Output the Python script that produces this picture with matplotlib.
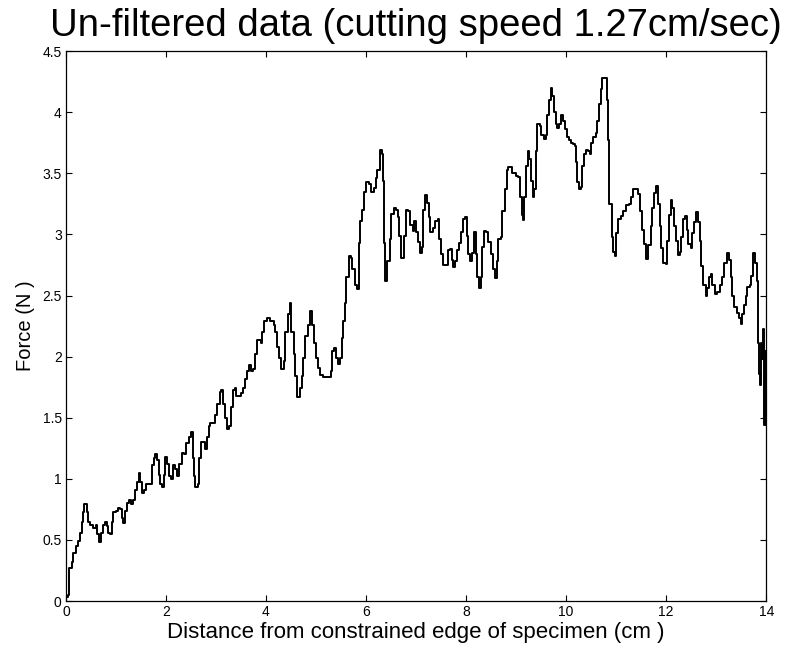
import matplotlib
matplotlib.use("Agg")
import matplotlib.pyplot as plt

x_cm = [0.0, 0.047, 0.067, 0.114, 0.147, 0.2, 0.247, 0.28, 0.314, 0.334, 0.368, 0.415, 0.448, 0.482,
        0.548, 0.602, 0.629, 0.669, 0.709, 0.749, 0.783, 0.816, 0.849, 0.883, 0.916, 0.95, 1.003,
        1.05, 1.084, 1.117, 1.15, 1.184, 1.217, 1.264, 1.298, 1.338, 1.385, 1.418, 1.452, 1.485,
        1.518, 1.565, 1.605, 1.686, 1.719, 1.753, 1.786, 1.819, 1.853, 1.886, 1.92, 1.953, 1.987,
        2.02, 2.054, 2.1, 2.14, 2.181, 2.221, 2.261, 2.321, 2.368, 2.408, 2.455, 2.502, 2.542,
        2.569, 2.589, 2.635, 2.662, 2.702, 2.756, 2.789, 2.823, 2.856, 2.89, 2.957, 2.99, 3.023,
        3.077, 3.104, 3.144, 3.177, 3.211, 3.258, 3.291, 3.331, 3.371, 3.405, 3.458, 3.492, 3.538,
        3.572, 3.612, 3.659, 3.692, 3.739, 3.773, 3.813, 3.86, 3.893, 3.926, 3.96, 4.013,
        4.086, 4.152, 4.185, 4.219, 4.265, 4.305, 4.351, 4.384, 4.437, 4.47, 4.503, 4.55, 4.583,
        4.616, 4.682, 4.715, 4.748, 4.781, 4.834, 4.881, 4.927, 4.967, 5.0, 5.033, 5.079, 5.146,
        5.245, 5.291, 5.325, 5.364, 5.404, 5.444, 5.483, 5.51, 5.543, 5.576, 5.609, 5.656, 5.695,
        5.728, 5.775, 5.828, 5.854, 5.887, 5.921, 5.96, 6.007, 6.053, 6.106, 6.152, 6.192, 6.225,
        6.272, 6.318, 6.338, 6.358, 6.384, 6.424, 6.47, 6.503, 6.55, 6.603, 6.636, 6.669, 6.702,
        6.755, 6.801, 6.848, 6.887, 6.934, 6.967, 7.0, 7.033, 7.079, 7.113, 7.146, 7.179, 7.219,
        7.252, 7.285, 7.331, 7.377, 7.43, 7.464, 7.497, 7.53, 7.596, 7.629, 7.682, 7.709, 7.748,
        7.781, 7.815, 7.861, 7.894, 7.94, 7.98, 8.013, 8.04, 8.079, 8.113, 8.159, 8.192, 8.225,
        8.258, 8.291, 8.325, 8.358, 8.397, 8.437, 8.49, 8.536, 8.576, 8.609, 8.642,
        8.695, 8.728, 8.775, 8.815, 8.842, 8.895, 8.928, 8.995, 9.041, 9.075, 9.108, 9.134, 9.161,
        9.194, 9.228, 9.261, 9.294, 9.328, 9.361, 9.394, 9.427, 9.474, 9.507, 9.561, 9.601, 9.627,
        9.66, 9.694, 9.727, 9.76, 9.794, 9.827, 9.86, 9.907, 9.947, 9.98, 10.027, 10.06, 10.107,
        10.146, 10.18, 10.206, 10.226, 10.26, 10.293, 10.326, 10.36, 10.393, 10.439, 10.479,
        10.506, 10.546, 10.593, 10.626, 10.659, 10.692, 10.726, 10.779, 10.812, 10.839, 10.866,
        10.912, 10.939, 10.972, 11.005, 11.039, 11.092, 11.145, 11.192, 11.258, 11.292, 11.332,
        11.391, 11.438, 11.478, 11.525, 11.558, 11.605, 11.645, 11.691, 11.724, 11.758, 11.804,
        11.838, 11.871, 11.904, 11.937, 11.991, 12.024, 12.057, 12.091, 12.124, 12.157, 12.19,
        12.237, 12.277, 12.304, 12.344, 12.377, 12.41, 12.443, 12.49, 12.523, 12.557, 12.603,
        12.636, 12.676, 12.703, 12.736, 12.79, 12.823, 12.856, 12.89, 12.923, 12.976, 13.023,
        13.076, 13.123, 13.156, 13.209, 13.249, 13.289, 13.322, 13.356, 13.409, 13.456, 13.489,
        13.522, 13.555, 13.589, 13.622, 13.668, 13.702, 13.735, 13.768, 13.808, 13.835, 13.855,
        13.875, 13.901, 13.921, 13.941, 13.955, 13.975, 13.988]

force_n = [0.03, 0.05, 0.27, 0.32, 0.39, 0.45, 0.49, 0.56, 0.65, 0.73, 0.79, 0.73, 0.65, 0.62,
           0.60, 0.62, 0.55, 0.48, 0.56, 0.62, 0.65, 0.61, 0.56, 0.55, 0.65, 0.73, 0.74,
           0.76, 0.75, 0.68, 0.64, 0.74, 0.80, 0.83, 0.79, 0.83, 0.91, 0.97, 1.05, 0.97,
           0.88, 0.91, 0.96, 0.96, 1.11, 1.17, 1.20, 1.15, 1.03, 0.96, 0.93, 1.03, 1.18,
           1.12, 1.02, 1.00, 1.11, 1.08, 1.02, 1.12, 1.21, 1.20, 1.29, 1.34, 1.38, 1.17,
           1.02, 0.93, 0.96, 1.17, 1.30, 1.30, 1.24, 1.34, 1.43, 1.46, 1.46, 1.52, 1.61,
           1.71, 1.73, 1.61, 1.50, 1.41, 1.43, 1.59, 1.73, 1.74, 1.68, 1.68, 1.70, 1.74,
           1.82, 1.88, 1.93, 1.88, 1.90, 2.02, 2.14, 2.14, 2.11, 2.20, 2.29, 2.32,
           2.29, 2.26, 2.20, 2.08, 1.99, 1.90, 1.96, 2.20, 2.35, 2.44, 2.20, 2.02, 1.84,
           1.67, 1.74, 1.84, 1.99, 2.17, 2.26, 2.37, 2.26, 2.11, 1.99, 1.91, 1.85, 1.83,
           1.83, 1.88, 2.05, 2.07, 1.99, 1.94, 1.99, 2.15, 2.29, 2.44, 2.65, 2.82, 2.81,
           2.72, 2.59, 2.55, 2.93, 3.11, 3.20, 3.35, 3.43, 3.41, 3.35, 3.38, 3.46, 3.53,
           3.69, 3.66, 3.44, 2.93, 2.62, 2.78, 2.96, 3.17, 3.22, 3.20, 3.14, 2.99, 2.81,
           2.99, 3.20, 3.19, 3.08, 3.03, 3.11, 3.02, 2.94, 2.85, 2.90, 3.20, 3.32, 3.26,
           3.14, 3.02, 3.05, 3.11, 3.13, 2.96, 2.84, 2.75, 2.75, 2.87, 2.88, 2.79, 2.73,
           2.78, 2.87, 2.93, 3.02, 3.13, 3.14, 2.99, 2.84, 2.78, 2.85, 3.02, 2.84, 2.65,
           2.56, 2.65, 2.90, 3.03, 3.02, 2.94, 2.84, 2.72, 2.64, 2.78, 2.96,
           2.98, 3.19, 3.37, 3.53, 3.55, 3.55, 3.50, 3.48, 3.47, 3.31, 3.16, 3.12, 3.31,
           3.56, 3.68, 3.62, 3.44, 3.31, 3.37, 3.68, 3.90, 3.89, 3.81, 3.78, 3.81, 3.98,
           4.10, 4.20, 4.13, 4.00, 3.90, 3.87, 3.90, 3.98, 3.93, 3.86, 3.80, 3.77, 3.75,
           3.74, 3.72, 3.59, 3.43, 3.37, 3.39, 3.56, 3.66, 3.69, 3.68, 3.66,
           3.75, 3.80, 3.83, 3.93, 4.07, 4.19, 4.28, 4.28, 4.10, 3.77, 3.25,
           2.98, 2.86, 2.82, 3.01, 3.13, 3.15, 3.19, 3.24, 3.25, 3.31, 3.37,
           3.37, 3.33, 3.19, 3.04, 2.92, 2.80, 2.91, 3.07, 3.22, 3.34, 3.40,
           3.25, 3.07, 2.89, 2.77, 2.76, 2.95, 3.16, 3.28, 3.22, 3.07, 2.95,
           2.83, 2.86, 2.98, 3.13, 3.15, 3.04, 2.92, 2.89, 3.01, 3.10, 3.18,
           3.10, 2.95, 2.74, 2.59, 2.50, 2.56, 2.65, 2.68, 2.59, 2.51, 2.53,
           2.59, 2.65, 2.77, 2.85, 2.79, 2.65, 2.50, 2.41, 2.36, 2.32, 2.27,
           2.35, 2.42, 2.50, 2.57, 2.59, 2.66, 2.85, 2.77, 2.62, 2.11, 1.86,
           1.77, 2.11, 1.98, 2.23, 1.44, 2.05, 1.44]

x_ticks = [0, 2, 4, 6, 8, 10, 12, 14]
y_ticks = [0, 0.5, 1, 1.5, 2, 2.5, 3, 3.5, 4, 4.5]

plt.rcParams['font.family'] = ['Liberation Sans', 'DejaVu Sans']

fig = plt.figure(figsize=(7.94, 6.55), dpi=100)
ax = fig.add_axes([0.083, 0.0824, 0.882, 0.8396])

ax.plot(x_cm, force_n, color='black', linewidth=1.4, drawstyle='steps-post')

ax.set_xlim(0, 14)
ax.set_ylim(0, 4.5)
ax.set_xticks(x_ticks)
ax.set_yticks(y_ticks)
ax.set_xticklabels([str(t) for t in x_ticks])
ax.set_yticklabels(['0', '0.5', '1', '1.5', '2', '2.5', '3', '3.5', '4', '4.5'])
ax.tick_params(direction='in', top=True, right=True, length=4, width=0.8,
               labelsize=10, pad=3)
for sp in ax.spines.values():
    sp.set_linewidth(0.9)

ax.set_title("Un-filtered data (cutting speed 1.27cm/sec)", fontsize=27.5, pad=11)
ax.set_xlabel("Distance from constrained edge of specimen (cm )", fontsize=16, labelpad=2)
ax.set_ylabel("Force (N )", fontsize=14.5, labelpad=5)

fig.savefig("out.png", dpi=100)
